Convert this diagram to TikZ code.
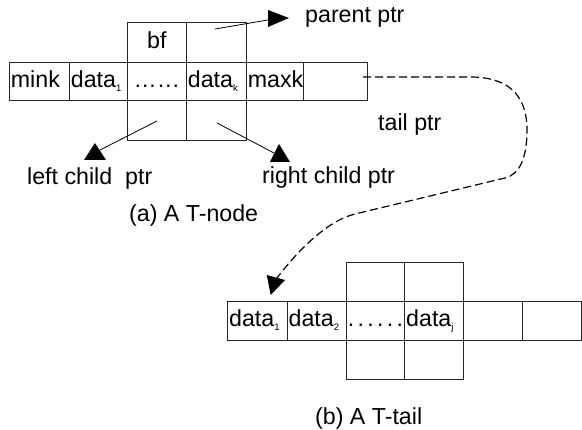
\documentclass[tikz,border=0pt]{standalone}
\usepackage{fontspec}
\setmainfont{Liberation Sans}
\newcommand\subs[1]{\raisebox{-4.3pt}{\fontsize{9.5}{10}\selectfont #1}}
\begin{document}
\begin{tikzpicture}[x=1pt,y=-1pt,
  every node/.style={font=\fontsize{23.2}{27}\selectfont},
  cellbox/.style 2 args={draw=black!85, line width=0.8pt, anchor=north west,
    inner xsep=1.5pt, inner ysep=0pt, text width=#1, minimum height=#2,
    text height=16.4pt, text depth=5pt, align=left},
  midbox/.style={align=center},
  lbl/.style={anchor=base west, inner sep=0pt},
  ptr/.style={draw=black, line width=0.8pt},
  head/.style={fill=black},
  tailptr/.style={draw=black, line width=1.2pt, dash pattern=on 8pt off 4pt}
]
\useasboundingbox (0,0) rectangle (582,430);

% ---------- (a) T-node ----------
\node[cellbox={57pt}{38pt}] (c1) at (9,62) {mink};
\node[cellbox={55pt}{38pt}] (c2) at (69,62) {data\subs{1}};
\node[cellbox={56pt}{38pt},midbox] (c3) at (127,62) {\mbox{……}};
\node[cellbox={57pt}{38pt}] (c4) at (186,62) {data\subs{k}};
\node[cellbox={54pt}{38pt}] (c5) at (246,62) {\mbox{maxk}};
\node[cellbox={61pt}{38pt}] (c6) at (303,62) {};
\node[cellbox={56pt}{40pt},midbox] (t1) at (127,22) {bf};
\node[cellbox={57pt}{40pt}] (t2) at (186,22) {};
\node[cellbox={56pt}{40pt}] (b1) at (127,100) {};
\node[cellbox={57pt}{40pt}] (b2) at (186,100) {};

\node[lbl] (lp) at (305,23) {parent ptr};
\node[lbl] (ll) at (27,185) {left child\ \ ptr};
\node[lbl] (lr) at (262,184) {right child ptr};
\node[lbl] (lt) at (378,131) {tail ptr};
\node[lbl] (la) at (129,222) {(a) A T-node};

% pointers
\coordinate (ps) at (215,29);
\coordinate (pe) at (268,20);
\draw[ptr] (ps) -- (pe);
\fill[head] (268,10) -- (289,18) -- (268,27) -- cycle;

\coordinate (ls) at (157,121);
\coordinate (le) at (100,150);
\draw[ptr] (ls) -- (le);
\fill[head] (95,143) -- (106,160) -- (84,160) -- cycle;

\coordinate (rs) at (217,123);
\coordinate (re) at (274,153);
\draw[ptr] (rs) -- (re);
\fill[head] (279,144) -- (290,162) -- (270,162) -- cycle;

% ---------- (b) T-tail ----------
\node[cellbox={56.4pt}{39pt}] (d1) at (227.3,301) {data\subs{1}};
\node[cellbox={56pt}{39pt}] (d2) at (286.7,301) {data\subs{2}};
\node[cellbox={55.6pt}{39pt},midbox] (d3) at (345.7,301) {\mbox{.\hspace{3.3pt}.\hspace{3.3pt}.\hspace{3.3pt}.\hspace{3.3pt}.\hspace{3.3pt}.}};
\node[cellbox={56pt}{39pt}] (d4) at (404.3,301) {data\subs{j}};
\node[cellbox={56pt}{39pt}] (d5) at (463.3,301) {};
\node[cellbox={56pt}{39pt}] (d6) at (522.3,301) {};
\node[cellbox={55.6pt}{39pt}] (e1) at (345.7,262) {};
\node[cellbox={56pt}{39pt}] (e2) at (404.3,262) {};
\node[cellbox={55.6pt}{39pt}] (f1) at (345.7,340) {};
\node[cellbox={56pt}{39pt}] (f2) at (404.3,340) {};

\node[lbl] (lb) at (315,425) {(b) A T-tail};

% tail pointer
\coordinate (ts) at (363,77);
\coordinate (te) at (277,278);
\draw[tailptr] (ts) -- (470,77) .. controls (505,77) and (527,92) .. (527,130)
   .. controls (527,158) and (519.6,174.5) .. (505,178) -- (355,214)
   .. controls (326,221) and (296,253) .. (te);
\fill[head] (266.7,275) -- (285,280) -- (270.7,295) -- cycle;
\end{tikzpicture}
\end{document}
